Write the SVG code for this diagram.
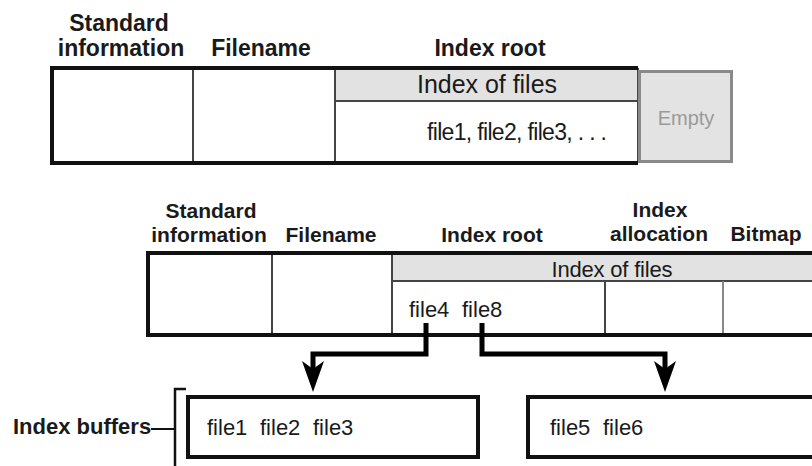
<svg xmlns="http://www.w3.org/2000/svg" width="812" height="466" viewBox="0 0 812 466">
<defs>
<style>
text{font-family:"Liberation Sans",Arial,sans-serif;fill:#1a1a1a}
.h1{font-size:23px;font-weight:bold;text-anchor:middle}
.h2{font-size:21px;font-weight:bold;text-anchor:middle}
.r{font-size:22px}
.thick{fill:none;stroke:#111;stroke-width:4}
.div{stroke:#444;stroke-width:2}
.div2{stroke:#888;stroke-width:2}
.band{fill:#e2e2e2}
.arr{fill:none;stroke:#000;stroke-width:5}
</style>
</defs>
<rect width="812" height="466" fill="#fff"/>

<g id="top-record">
<text class="h1" x="119" y="31">Standard</text>
<text class="h1" x="121" y="56">information</text>
<text class="h1" x="261" y="56">Filename</text>
<text class="h1" x="490" y="56">Index root</text>
<rect class="band" x="335" y="70" width="303" height="31"/>
<line class="div" x1="335" y1="101" x2="638" y2="101"/>
<line class="div" x1="193" y1="68" x2="193" y2="163"/>
<line class="div" x1="335" y1="68" x2="335" y2="163"/>
<line class="div" x1="638" y1="68" x2="638" y2="163"/>
<path class="thick" d="M638,68 H52 V163 H638"/>
<text x="487" y="93" font-size="25" text-anchor="middle" textLength="140">Index of files</text>
<text x="427" y="140" font-size="23" textLength="180">file1, file2, file3, . . .</text>
</g>

<g id="empty">
<rect x="639.5" y="71.5" width="92" height="90" fill="#e3e3e3" stroke="#8a8a8a" stroke-width="3"/>
<text x="686" y="125" font-size="20" text-anchor="middle" style="fill:#9a9a9a">Empty</text>
</g>

<g id="bottom-record">
<text class="h2" x="211" y="218">Standard</text>
<text class="h2" x="209" y="242">information</text>
<text class="h2" x="331" y="242">Filename</text>
<text class="h2" x="492" y="242">Index root</text>
<text class="h2" x="660" y="217">Index</text>
<text class="h2" x="659" y="241">allocation</text>
<text class="h2" x="766" y="241">Bitmap</text>
<rect class="band" x="392" y="255" width="420" height="26"/>
<line class="div" x1="392" y1="281" x2="812" y2="281"/>
<line class="div" x1="272" y1="253" x2="272" y2="335"/>
<line class="div" x1="392" y1="253" x2="392" y2="335"/>
<line class="div" x1="605" y1="281" x2="605" y2="335"/>
<line class="div2" x1="723" y1="281" x2="723" y2="335"/>
<path class="thick" d="M814,253 H148 V335 H814"/>
<text x="612" y="277" font-size="22" text-anchor="middle" textLength="121">Index of files</text>
<text class="r" x="409" y="317">file4</text>
<text class="r" x="462" y="317">file8</text>
</g>

<g id="connectors">
<path class="arr" d="M426,323 V354 H313 V372"/>
<polygon points="313,392 302,361 313,369 324,361" fill="#000"/>
<path class="arr" d="M482,323 V354 H665 V372"/>
<polygon points="665,392 654,361 665,369 676,361" fill="#000"/>
</g>

<g id="index-buffers-label">
<text x="13" y="434" font-size="22" font-weight="bold">Index buffers</text>
<line x1="151" y1="429" x2="175" y2="429" stroke="#111" stroke-width="2"/>
<path d="M186,389 H175 V466" fill="none" stroke="#111" stroke-width="2.5"/>
</g>

<g id="buffer1">
<rect class="thick" x="188" y="397" width="290" height="60"/>
<text class="r" x="207" y="435">file1</text>
<text class="r" x="260" y="435">file2</text>
<text class="r" x="313" y="435">file3</text>
</g>

<g id="buffer2">
<path class="thick" d="M814,397 H528 V457 H814"/>
<text class="r" x="550" y="435">file5</text>
<text class="r" x="603" y="435">file6</text>
</g>
</svg>
